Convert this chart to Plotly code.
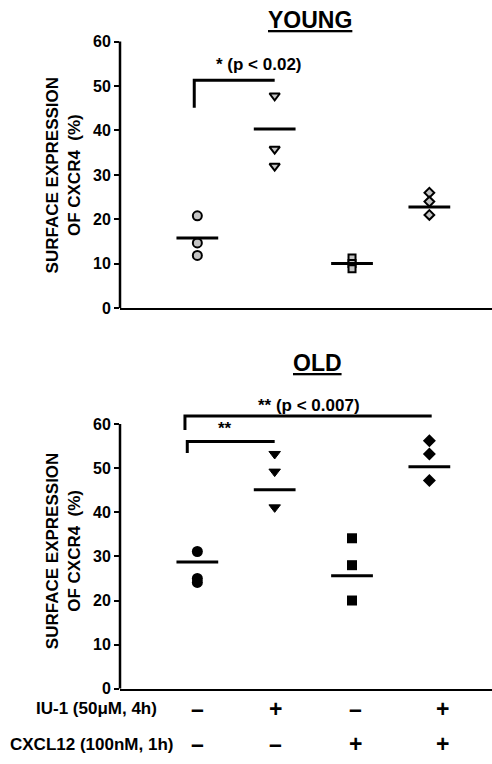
import plotly.graph_objects as go

# ---------------- data ----------------
groups = [1, 2, 3, 4]
group_names = ["Control", "IU-1", "CXCL12", "IU-1 + CXCL12"]
symbols = ["circle", "triangle-down", "square", "diamond"]

young_values = [
    [20.8, 14.7, 11.9],   # control
    [47.8, 35.8, 32.0],   # IU-1
    [11.3, 10.1, 8.9],    # CXCL12
    [26.0, 24.0, 21.0],   # IU-1 + CXCL12
]
young_means = [15.8, 40.3, 10.1, 22.8]

old_values = [
    [31.1, 25.0, 24.1],
    [53.2, 49.2, 41.1],
    [34.1, 28.0, 20.0],
    [56.2, 53.2, 47.2],
]
old_means = [28.7, 45.1, 25.6, 50.3]

y_ticks = [0, 10, 20, 30, 40, 50, 60]

# significance brackets: (x_start, x_end, y_top, y_drop)
young_brackets = [(0.96, 2.0, 51.3, 45.1)]
old_brackets = [(0.84, 4.03, 61.8, 58.6), (0.87, 2.0, 56.0, 53.4)]
# significance labels: (x, y, text)
young_sig = [(1.80, 54.9, "* (p &lt; 0.02)")]
old_sig = [(2.44, 64.2, "** (p &lt; 0.007)"), (1.36, 58.9, "**")]

iu1_signs = ["–", "+", "–", "+"]
cxcl12_signs = ["–", "–", "+", "+"]
row_labels = ["IU-1 (50μM, 4h)", "CXCL12 (100nM, 1h)"]

# ---------------- figure ----------------
FONT = "Liberation Sans, Arial, sans-serif"
fig = go.Figure()

top_sizes = [9, 9, 7, 7.5]
old_sizes = [11, 10, 10, 10]

def add_panel(values, means, brackets, xa, ya, young):
    for i, g in enumerate(groups):
        if young:
            marker = dict(symbol=symbols[i], size=top_sizes[i], color="#c4c4c4",
                          line=dict(color="black", width=2))
        else:
            marker = dict(symbol=symbols[i], size=old_sizes[i], color="black",
                          line=dict(color="black", width=1 if i == 1 else 0))
        fig.add_trace(go.Scatter(x=[g] * len(values[i]), y=values[i], mode="markers",
                                 marker=marker, xaxis=xa, yaxis=ya, cliponaxis=False,
                                 showlegend=False, hoverinfo="y"))
    mx, my = [], []
    for g, m in zip(groups, means):
        mx += [g - 0.27, g + 0.27, None]
        my += [m, m, None]
    fig.add_trace(go.Scatter(x=mx, y=my, mode="lines", line=dict(color="black", width=3),
                             xaxis=xa, yaxis=ya, showlegend=False, hoverinfo="skip"))
    for (x0, x1, yt, yd) in brackets:
        fig.add_trace(go.Scatter(x=[x0, x0, x1], y=[yd, yt, yt], mode="lines",
                                 line=dict(color="black", width=3),
                                 xaxis=xa, yaxis=ya, showlegend=False, hoverinfo="skip"))

add_panel(young_values, young_means, young_brackets, "x", "y", True)
add_panel(old_values, old_means, old_brackets, "x2", "y2", False)

axis_font = dict(family=FONT, size=16, color="black", weight="bold")
xcommon = dict(range=[0, 4.81], showline=True, linecolor="black", linewidth=2,
               showticklabels=False, ticks="", showgrid=False, zeroline=False,
               domain=[120 / 492, 1])
ycommon = dict(range=[0, 66], showline=False, tickvals=y_ticks, ticks="outside",
               ticklen=5, tickwidth=2, tickcolor="black", tickfont=axis_font,
               showgrid=False, zeroline=False)

fig.update_layout(
    width=492, height=764,
    margin=dict(l=0, r=0, t=0, b=0),
    paper_bgcolor="white", plot_bgcolor="white",
    showlegend=False,
    xaxis=dict(**xcommon, anchor="y"),
    yaxis=dict(**ycommon, anchor="x", domain=[(764 - 312) / 764, (764 - 15) / 764]),
    xaxis2=dict(**xcommon, anchor="y2"),
    yaxis2=dict(**ycommon, anchor="x2", domain=[(764 - 697) / 764, (764 - 402.2) / 764]),
)

# y-axis lines from 0 to 60
for xa, ya in [("x", "y"), ("x2", "y2")]:
    fig.add_shape(type="line", xref=f"{xa} domain", yref=ya, x0=0, x1=0,
                  y0=y_ticks[0], y1=y_ticks[-1], line=dict(color="black", width=2.5))

ann_font = dict(family=FONT, size=17, color="black", weight="bold")
title_font = dict(family=FONT, size=23, color="black", weight="bold")

# panel titles
fig.add_annotation(text="<u>YOUNG</u>", xref="paper", yref="paper", x=310 / 492, y=1 - 20 / 764,
                   xanchor="center", yanchor="middle", showarrow=False, font=title_font)
fig.add_annotation(text="<u>OLD</u>", xref="paper", yref="paper", x=317.5 / 492, y=1 - 367 / 764,
                   xanchor="center", yanchor="middle", showarrow=False, font=title_font)

# y-axis titles
ytitle = "SURFACE EXPRESSION<br>OF CXCR4&nbsp; (%)"
fig.add_annotation(text=ytitle, xref="paper", yref="y", x=63.5 / 492, y=30, textangle=-90,
                   showarrow=False, font=ann_font, xanchor="center", yanchor="middle")
fig.add_annotation(text=ytitle, xref="paper", yref="y2", x=63.5 / 492, y=31.3, textangle=-90,
                   showarrow=False, font=ann_font, xanchor="center", yanchor="middle")

# significance labels
for (x, y, t) in young_sig:
    fig.add_annotation(text=t, xref="x", yref="y", x=x, y=y, showarrow=False, font=ann_font)
for (x, y, t) in old_sig:
    fig.add_annotation(text=t, xref="x2", yref="y2", x=x, y=y, showarrow=False, font=ann_font)

# treatment rows
row_y = [1 - 717 / 764, 1 - 753 / 764]
row_right = [159 / 492, 175 / 492]
sign_shift = [0, 1, 3, 13]
for r, (lab, signs) in enumerate(zip(row_labels, [iu1_signs, cxcl12_signs])):
    fig.add_annotation(text=lab, xref="paper", yref="paper", x=row_right[r], y=row_y[r],
                       xanchor="right", yanchor="middle", showarrow=False, font=ann_font)
    for g, s, sh in zip(groups, signs, sign_shift):
        fig.add_annotation(text=s, xref="x2", yref="paper", x=g, y=row_y[r], xshift=sh,
                           xanchor="center", yanchor="middle", showarrow=False,
                           font=title_font)

fig.write_html("out.html", config={"displayModeBar": False},
               post_script="document.body.style.margin='0';")
